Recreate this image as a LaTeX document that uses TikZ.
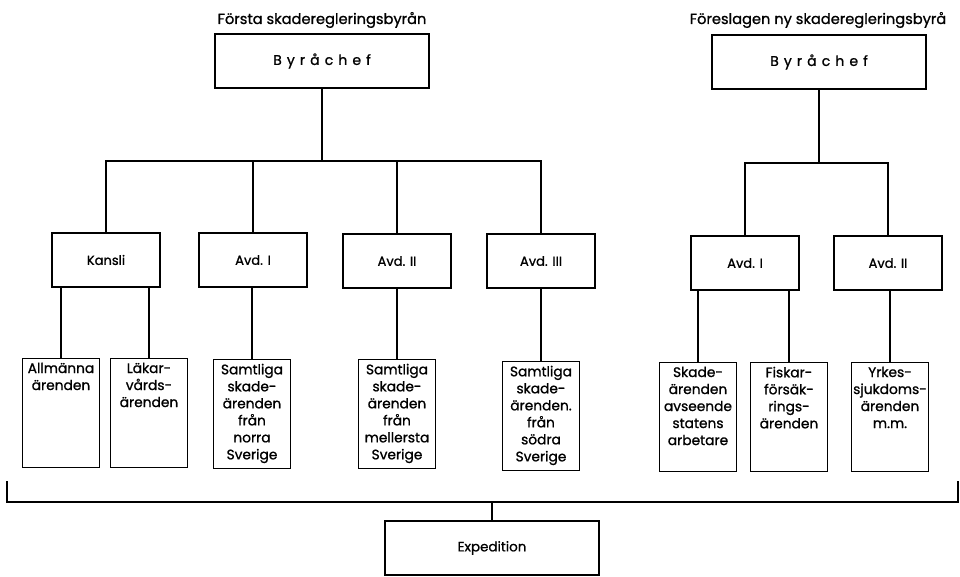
\documentclass[tikz,border=0pt]{standalone}
\usepackage{fontspec}
\setmainfont{Poppins}[FakeBold=1.0]
\usepackage{tikz}
\usetikzlibrary{positioning}
\tikzset{chief/.style={draw, line width=1.1pt, minimum width=5.35cm, minimum height=1.35cm, inner sep=0pt, font=\fontsize{10}{12}\selectfont}}
\tikzset{unit/.style={draw, line width=1.1pt, minimum width=2.7cm, minimum height=1.35cm, inner sep=0pt, font=\fontsize{9.3}{11}\selectfont}}
\tikzset{leaf/.style={draw, line width=1.1pt, inner sep=0pt, font=\fontsize{9.8}{12.1}\selectfont}}
\tikzset{link/.style={line width=1.1pt}}
\tikzset{head/.style={inner sep=0pt, font=\fontsize{10.4}{12}\selectfont}}
\newcommand{\leaftext}[1]{\parbox[c][2.72cm][t]{1.92cm}{\centering\vspace{3pt}#1}}
\newcommand{\spaced}[1]{{\addfontfeature{LetterSpace=36}#1}}

\begin{document}
\begin{tikzpicture}[x=0.025cm, y=-0.025cm]
\useasboundingbox (0,0) rectangle (960,577);

\node[head] (t1) at (322,20) {Första skaderegleringsbyrån};
\node[head] (t2) at (818,20) {Föreslagen ny skaderegleringsbyrå};

\node[chief] (c1) at (322,61) {\spaced{Byråchef}};
\node[chief] (c2) at (819,62) {\spaced{Byråchef}};

\node[unit] (kansli) at (106,260) {Kansli};
\node[unit] (avd1) at (253,260) {Avd. I};
\node[unit] (avd2) at (397,261) {Avd. II};
\node[unit] (avd3) at (541,261) {Avd. III};
\node[unit] (ravd1) at (745,263) {Avd. I};
\node[unit] (ravd2) at (888,263) {Avd. II};

\node[leaf] (allm) at (61,413) {\leaftext{Allmänna\\ärenden}};
\node[leaf] (lakar) at (149,413) {\leaftext{Läkar-\\vårds-\\ärenden}};
\node[leaf] (norra) at (252,414) {\leaftext{Samtliga\\skade-\\ärenden\\från\\norra\\Sverige}};
\node[leaf] (mell) at (397,414) {\leaftext{Samtliga\\skade-\\ärenden\\från\\mellersta\\Sverige}};
\node[leaf] (sodra) at (541,416) {\leaftext{Samtliga\\skade-\\ärenden.\\från\\södra\\Sverige}};
\node[leaf] (skade) at (698,417) {\leaftext{Skade-\\ärenden\\avseende\\statens\\arbetare}};
\node[leaf] (fiskar) at (789,417) {\leaftext{Fiskar-\\försäk-\\rings-\\ärenden}};
\node[leaf] (yrkes) at (890,417) {\leaftext{Yrkes-\\sjukdoms-\\ärenden\\m.m.}};

\node[chief, font=\fontsize{9.6}{11}\selectfont] (exped) at (492,548) {Expedition};

\coordinate (busL) at (322,161);
\coordinate (busR) at (819,163);
\coordinate (brL) at (7,481);
\coordinate (brR) at (958,481);
\coordinate (brM) at (492,502);

\draw[link] (c1.south) -- (busL);
\draw[link] (kansli.north) |- (busL) -| (avd3.north);
\draw[link] (avd1.north) -- (avd1.north |- busL);
\draw[link] (avd2.north) -- (avd2.north |- busL);
\draw[link] (c2.south) -- (busR);
\draw[link] (ravd1.north) |- (busR) -| (ravd2.north);

\draw[link] (allm.north) -- (allm.north |- kansli.south);
\draw[link] (lakar.north) -- (lakar.north |- kansli.south);
\draw[link] (norra.north) -- (norra.north |- avd1.south);
\draw[link] (mell.north) -- (mell.north |- avd2.south);
\draw[link] (sodra.north) -- (sodra.north |- avd3.south);
\draw[link] (skade.north) -- (skade.north |- ravd1.south);
\draw[link] (fiskar.north) -- (fiskar.north |- ravd1.south);
\draw[link] (yrkes.north) -- (yrkes.north |- ravd2.south);

\draw[link] (brL) |- (brM) -| (brR);
\draw[link] (brM) -- (exped.north);
\end{tikzpicture}
\end{document}
